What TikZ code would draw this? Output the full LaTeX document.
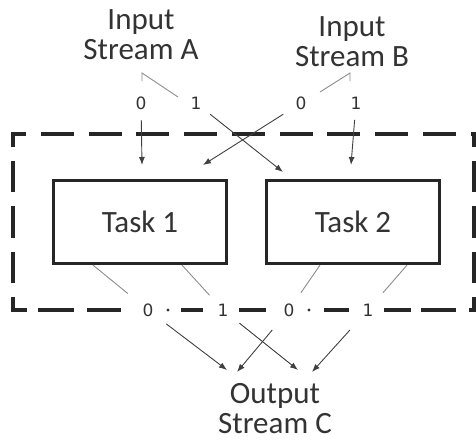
\documentclass[tikz,border=0pt]{standalone}
\usepackage{fontspec}
\setmainfont{Carlito}
\newfontfamily\digitfont{DejaVu Sans}
\usetikzlibrary{arrows.meta}

\begin{document}
\begin{tikzpicture}[x=1pt,y=-1pt,>={Latex[length=8pt,width=6pt]},
                    font=\fontsize{31}{30}\selectfont]

  \tikzstyle{every node}=[text=black!80]
  \tikzstyle{stream}=[align=center]
  \tikzstyle{task}=[rectangle,draw=black!85,line width=3.2pt,
                    minimum width=173pt,minimum height=83pt]
  \tikzstyle{port}=[font=\digitfont\fontsize{17}{17}\selectfont,inner sep=3pt]
  \tikzstyle{link}=[draw=black!45,line width=0.9pt]
  \tikzstyle{feed}=[->,draw=black!75,line width=0.9pt]
  \tikzstyle{frame}=[line width=3.3pt,line cap=rect,draw=black!85]

  \useasboundingbox (0,0) rectangle (476,442);

  % dashed boundary; the bottom side is broken up by the output ports
  \draw[frame,dash pattern=on 29.7pt off 18.05pt,dash phase=18.35pt] (13,134) -- (474,134);
  \draw[frame,dash pattern=on 28pt off 17.3pt,dash phase=16.65pt]    (13,134) -- (13,310);
  \draw[frame,dash pattern=on 28pt off 17.3pt,dash phase=16.65pt]    (474,134) -- (474,310);
  \foreach \a/\b in {13/25,40/72,89/119,183/201,241/264,326/347,386/409,423/454,471/474}
    \draw[frame] (\a,310) -- (\b,310);

  \node[stream] (inA)  at (141,35)  {Input\\Stream A};
  \node[stream] (inB)  at (352,42)  {Input\\Stream B};
  \node[stream] (outC) at (275,409) {Output\\Stream C};

  \node[task] (task1) at (140,222) {Task 1};
  \node[task] (task2) at (353,222) {Task 2};

  \node[port] (azero) at (141,103) {0};
  \node[port] (aone)  at (196,103) {1};
  \node[port] (bzero) at (301,103) {0};
  \node[port] (bone)  at (356,103) {1};

  \node[port] (t1zero) at (148,310) {0};
  \node[port] (t1one)  at (223,310) {1};
  \node[port] (t2zero) at (289,310) {0};
  \node[port] (t2one)  at (368,310) {1};
  \fill[black!80] (168,310) circle (1.6pt);
  \fill[black!80] (309,310) circle (1.6pt);

  \coordinate (splitA) at (142,73);
  \coordinate (splitB) at (350,73);
  \coordinate (stubA)  at (142,81);
  \coordinate (stubB)  at (350,81);
  \coordinate (toA1)   at (178,97);
  \coordinate (toB0)   at (320,92);

  \coordinate (t1inA) at (142,165);
  \coordinate (t2inA) at (283,172);
  \coordinate (t1inB) at (203,165);
  \coordinate (t2inB) at (351,165);

  \coordinate (c10) at (227,370);
  \coordinate (c11) at (298,370);
  \coordinate (c20) at (237,372);
  \coordinate (c21) at (312,372);

  \draw[link] (stubA) -- (splitA) -- (toA1);
  \draw[link] (stubB) -- (splitB) -- (toB0);

  \path
  (azero.center) edge [feed,shorten <=17pt] (t1inA)
  (aone.center)  edge [feed,shorten <=18pt] (t2inA)
  (bzero.center) edge [feed,shorten <=21pt] (t1inB)
  (bone.center)  edge [feed,shorten <=17pt] (t2inB)
  ;

  \path
  ([xshift=-47pt]task1.south) edge [link,shorten >=26pt] (t1zero.center)
  ([xshift=42pt]task1.south)  edge [link,shorten >=20pt] (t1one.center)
  ([xshift=-33pt]task2.south) edge [link,shorten >=21pt] (t2zero.center)
  ([xshift=54pt]task2.south)  edge [link,shorten >=23pt] (t2one.center)
  ;

  \path
  (t1zero.center) edge [feed,shorten <=23pt] (c10)
  (t1one.center)  edge [feed,shorten <=21pt] (c11)
  (t2zero.center) edge [feed,shorten <=26pt] (c20)
  (t2one.center)  edge [feed,shorten <=27pt] (c21)
  ;
\end{tikzpicture}
\end{document}
